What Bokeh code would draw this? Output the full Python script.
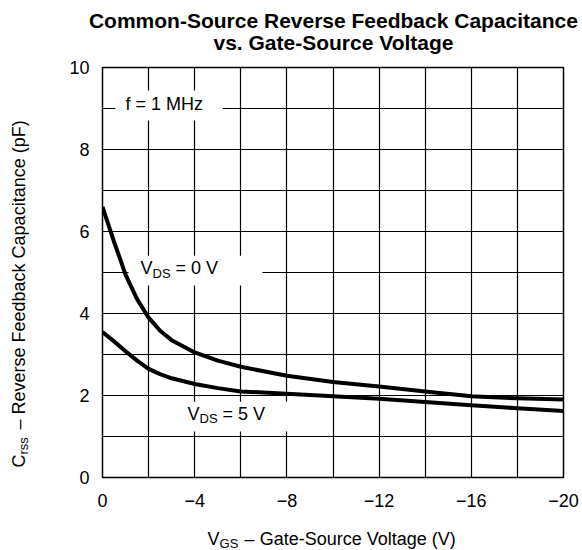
import math
from bokeh.plotting import figure
from bokeh.models import Range1d, FixedTicker, Label
from bokeh.embed import file_html
from bokeh.resources import INLINE

# ---- data ----
vgs = [0, -0.5, -1, -1.5, -2, -2.5, -3, -4, -5, -6, -8, -10, -12, -14, -16, -18, -20]
crss_vds0 = [6.6, 5.75, 4.95, 4.35, 3.9, 3.58, 3.35, 3.05, 2.85, 2.7, 2.48, 2.33, 2.22, 2.1, 1.98, 1.93, 1.9]
crss_vds5 = [3.55, 3.32, 3.08, 2.85, 2.65, 2.52, 2.42, 2.28, 2.18, 2.1, 2.04, 1.98, 1.92, 1.84, 1.76, 1.69, 1.62]

x_ticks = [0, -4, -8, -12, -16, -20]
x_tick_labels = ["0", "\u22124", "\u22128", "\u221212", "\u221216", "\u221220"]
y_ticks = [0, 2, 4, 6, 8, 10]
y_tick_labels = ["0", "2", "4", "6", "8", "10"]
x_grid = [0, -2, -4, -6, -8, -10, -12, -14, -16, -18, -20]
y_grid = [0, 1, 2, 3, 4, 5, 6, 7, 8, 9, 10]

FONT = "Liberation Sans"
NB = "\u00a0" * 5

p = figure(width=582, height=550, output_backend="svg", toolbar_location=None,
           x_range=Range1d(0, -20), y_range=Range1d(0, 10),
           min_border_left=102, min_border_right=19, min_border_top=67, min_border_bottom=73)
p.background_fill_color = "white"
p.border_fill_color = "white"
p.outline_line_color = "black"
p.outline_line_width = 1.5

p.xaxis.ticker = FixedTicker(ticks=x_ticks)
p.yaxis.ticker = FixedTicker(ticks=y_ticks)
p.xaxis.major_label_overrides = dict(zip(x_ticks, x_tick_labels))
p.yaxis.major_label_overrides = dict(zip(y_ticks, y_tick_labels))
for ax in (p.xaxis, p.yaxis):
    ax.major_tick_in = 0
    ax.major_tick_out = 0
    ax.minor_tick_in = 0
    ax.minor_tick_out = 0
    ax.axis_line_color = None
    ax.major_label_text_font = FONT
    ax.major_label_text_font_size = "18px"
    ax.major_label_text_color = "black"
p.xaxis.major_label_standoff = 16
p.yaxis.major_label_standoff = 13

p.xgrid.ticker = FixedTicker(ticks=x_grid)
p.ygrid.ticker = FixedTicker(ticks=y_grid)
for g in (p.xgrid, p.ygrid):
    g.grid_line_color = "black"
    g.grid_line_alpha = 1.0
    g.grid_line_width = 1.2

# white label boxes over the grid
p.quad(left=[-0.56, -1.13, -3.38], right=[-5.21, -6.94, -8.24],
       bottom=[8.71, 4.68, 1.12], top=[9.44, 5.41, 1.85],
       fill_color="white", line_color=None)

p.line(vgs, crss_vds0, line_color="black", line_width=4, line_join="round")
p.line(vgs, crss_vds5, line_color="black", line_width=4, line_join="round")


def lab(x, y, text, size="18px", style="normal", align="left", xo=0, yo=0, angle=0, place="center"):
    p.add_layout(Label(x=x, y=y, text=text, text_font=FONT, text_font_size=size,
                       text_font_style=style, text_align=align, text_baseline="alphabetic",
                       x_offset=xo, y_offset=yo, angle=angle, text_color="black"), place)


# title
lab(-10.02, 11.15, "Common-Source Reverse Feedback Capacitance", size="21px", style="bold",
    align="center", place="above")
lab(-10.02, 10.60, "vs. Gate-Source Voltage", size="21px", style="bold", align="center", place="above")

# in-plot annotations
lab(-1.0, 9.12, "f = 1 MHz")
lab(-1.65, 5.10, "V")
lab(-1.65, 5.10, "DS", size="13px", xo=12, yo=-5)
lab(-1.65, 5.10, "= 0 V", xo=35)
lab(-3.69, 1.56, "V")
lab(-3.69, 1.56, "DS", size="13px", xo=12, yo=-5)
lab(-3.69, 1.56, "= 5 V", xo=35)

# x axis label
lab(-4.56, -1.50, "V" + NB + "\u2013 Gate-Source Voltage (V)", place="below")
lab(-4.56, -1.50, "GS", size="13px", xo=12, yo=-4, place="below")

# y axis label (rotated)
a = math.pi / 2
lab(3.64, 0.244, "C" + NB + "\u2013 Reverse Feedback Capacitance (pF)", angle=a, place="left")
lab(3.64, 0.244, "rss", size="13px", angle=a, xo=5, yo=13, place="left")

open("out.html", "w").write(file_html(p, INLINE))
